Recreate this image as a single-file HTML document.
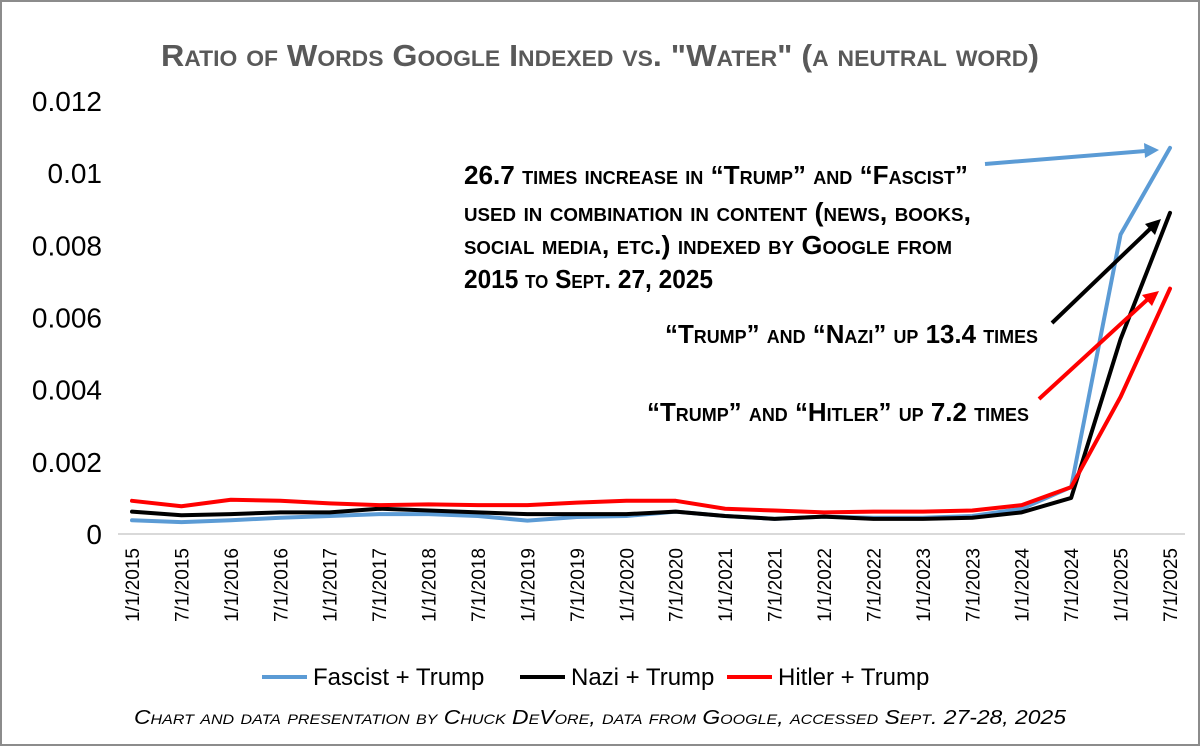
<!DOCTYPE html>
<html><head><meta charset="utf-8">
<style>
html,body{margin:0;padding:0;background:#fff;}
svg{display:block;}
text{font-family:"Liberation Sans Narrow","Liberation Sans",sans-serif;}
</style></head>
<body>
<svg id="chart" width="1200" height="746" viewBox="0 0 1200 746" xmlns="http://www.w3.org/2000/svg">
<rect x="1" y="1" width="1198" height="744" fill="#fff" stroke="#8c8c8c" stroke-width="2"/>
<text x="600" y="66" text-anchor="middle" font-size="31" font-weight="bold" fill="#595959" style="font-variant:small-caps" textLength="878" lengthAdjust="spacingAndGlyphs">Ratio of Words Google Indexed vs. "Water" (a neutral word)</text>
<g id="yaxis"></g>
<line x1="118" y1="534" x2="1185" y2="534" stroke="#d9d9d9" stroke-width="2"/>
<g id="xaxis"></g>
<g id="series"></g>
<g font-weight="bold" font-size="26" style="font-variant:small-caps" fill="#000">
<text x="464" y="184" textLength="504" lengthAdjust="spacingAndGlyphs">26.7 times increase in “Trump” and “Fascist”</text>
<text x="464" y="221" textLength="507" lengthAdjust="spacingAndGlyphs">used in combination in content (news, books,</text>
<text x="464" y="254" textLength="488" lengthAdjust="spacingAndGlyphs">social media, etc.) indexed by Google from</text>
<text x="464" y="288" textLength="249" lengthAdjust="spacingAndGlyphs">2015 to Sept. 27, 2025</text>
<text x="665" y="343" textLength="373" lengthAdjust="spacingAndGlyphs">“Trump” and “Nazi” up 13.4 times</text>
<text x="647" y="421" textLength="382" lengthAdjust="spacingAndGlyphs">“Trump” and “Hitler” up 7.2 times</text>
</g>
<line x1="985" y1="164" x2="1145" y2="151" stroke="#5b9bd5" stroke-width="4"/>
<polygon points="1159,150 1144,143 1145,158" fill="#5b9bd5"/>
<line x1="1052" y1="323" x2="1151" y2="228" stroke="#000" stroke-width="4"/>
<polygon points="1161,219 1145,224 1155,235" fill="#000"/>
<line x1="1039" y1="399" x2="1148" y2="299" stroke="#ff0000" stroke-width="4"/>
<polygon points="1159,291 1142,295 1152,306" fill="#ff0000"/>
<g font-size="24" font-family="Liberation Sans, sans-serif">
<line x1="262" y1="677" x2="307" y2="677" stroke="#5b9bd5" stroke-width="4"/>
<text x="313" y="685">Fascist + Trump</text>
<line x1="520" y1="677" x2="565" y2="677" stroke="#000" stroke-width="4"/>
<text x="571" y="685">Nazi + Trump</text>
<line x1="727" y1="677" x2="772" y2="677" stroke="#ff0000" stroke-width="4"/>
<text x="778" y="685">Hitler + Trump</text>
</g>
<text x="600" y="724" text-anchor="middle" font-size="20" font-style="italic" style="font-variant:small-caps" fill="#000" textLength="932" lengthAdjust="spacingAndGlyphs">Chart and data presentation by Chuck DeVore, data from Google, accessed Sept. 27-28, 2025</text>
</svg>
<script>
const categories = ["1/1/2015","7/1/2015","1/1/2016","7/1/2016","1/1/2017","7/1/2017","1/1/2018","7/1/2018","1/1/2019","7/1/2019","1/1/2020","7/1/2020","1/1/2021","7/1/2021","1/1/2022","7/1/2022","1/1/2023","7/1/2023","1/1/2024","7/1/2024","1/1/2025","7/1/2025"];
const fascistValues = [0.00038,0.00033,0.00038,0.00045,0.0005,0.00055,0.00055,0.0005,0.00037,0.00047,0.0005,0.00062,0.0005,0.00042,0.00048,0.00045,0.00045,0.0005,0.0007,0.0013,0.0083,0.0107];
const naziValues = [0.00062,0.00052,0.00055,0.0006,0.0006,0.0007,0.00065,0.0006,0.00055,0.00055,0.00055,0.00062,0.0005,0.00042,0.00048,0.00042,0.00042,0.00045,0.0006,0.001,0.0054,0.0089];
const hitlerValues = [0.00092,0.00077,0.00095,0.00092,0.00085,0.0008,0.00082,0.0008,0.0008,0.00087,0.00092,0.00092,0.0007,0.00065,0.0006,0.00062,0.00062,0.00065,0.0008,0.0013,0.0038,0.0068];
const yTicks = [0,0.002,0.004,0.006,0.008,0.01,0.012];
const yTickLabels = ["0","0.002","0.004","0.006","0.008","0.01","0.012"];

const NS="http://www.w3.org/2000/svg";
const yMin=0,yMax=0.012,yBottom=534,yTop=101;
const xFirst=132,xLast=1170;
function yScale(v){return yBottom-(v-yMin)/(yMax-yMin)*(yBottom-yTop);}
function xScale(i){return xFirst+i*(xLast-xFirst)/(categories.length-1);}

const yaxis=document.getElementById('yaxis');
yTicks.forEach((t,i)=>{
  const tx=document.createElementNS(NS,'text');
  tx.setAttribute('x','102');tx.setAttribute('y',yScale(t)+10);
  tx.setAttribute('text-anchor','end');tx.setAttribute('font-size','28');
  tx.setAttribute('font-family','Liberation Sans, sans-serif');
  tx.textContent=yTickLabels[i];
  
  
  yaxis.appendChild(tx);
});
const xaxis=document.getElementById('xaxis');
categories.forEach((c,i)=>{
  const tx=document.createElementNS(NS,'text');
  const x=xScale(i)+7,y=548;
  tx.setAttribute('x',x);tx.setAttribute('y',y);
  tx.setAttribute('text-anchor','end');tx.setAttribute('font-size','19');
  tx.setAttribute('font-family','Liberation Sans, sans-serif');
  tx.setAttribute('transform','rotate(-90 '+x+' '+y+')');
  tx.textContent=c;
  
  
  xaxis.appendChild(tx);
});
const series=document.getElementById('series');
function drawLine(vals,color,name){
  const p=document.createElementNS(NS,'polyline');
  p.setAttribute('points',vals.map((v,i)=>xScale(i)+','+yScale(v)).join(' '));
  p.setAttribute('fill','none');p.setAttribute('stroke',color);
  p.setAttribute('stroke-width','4');p.setAttribute('stroke-linejoin','round');p.setAttribute('stroke-linecap','round');
  
  
  series.appendChild(p);
}
drawLine(fascistValues,'#5b9bd5','fascist-trump-line');
drawLine(naziValues,'#000000','nazi-trump-line');
drawLine(hitlerValues,'#ff0000','hitler-trump-line');
</script>
</body></html>
